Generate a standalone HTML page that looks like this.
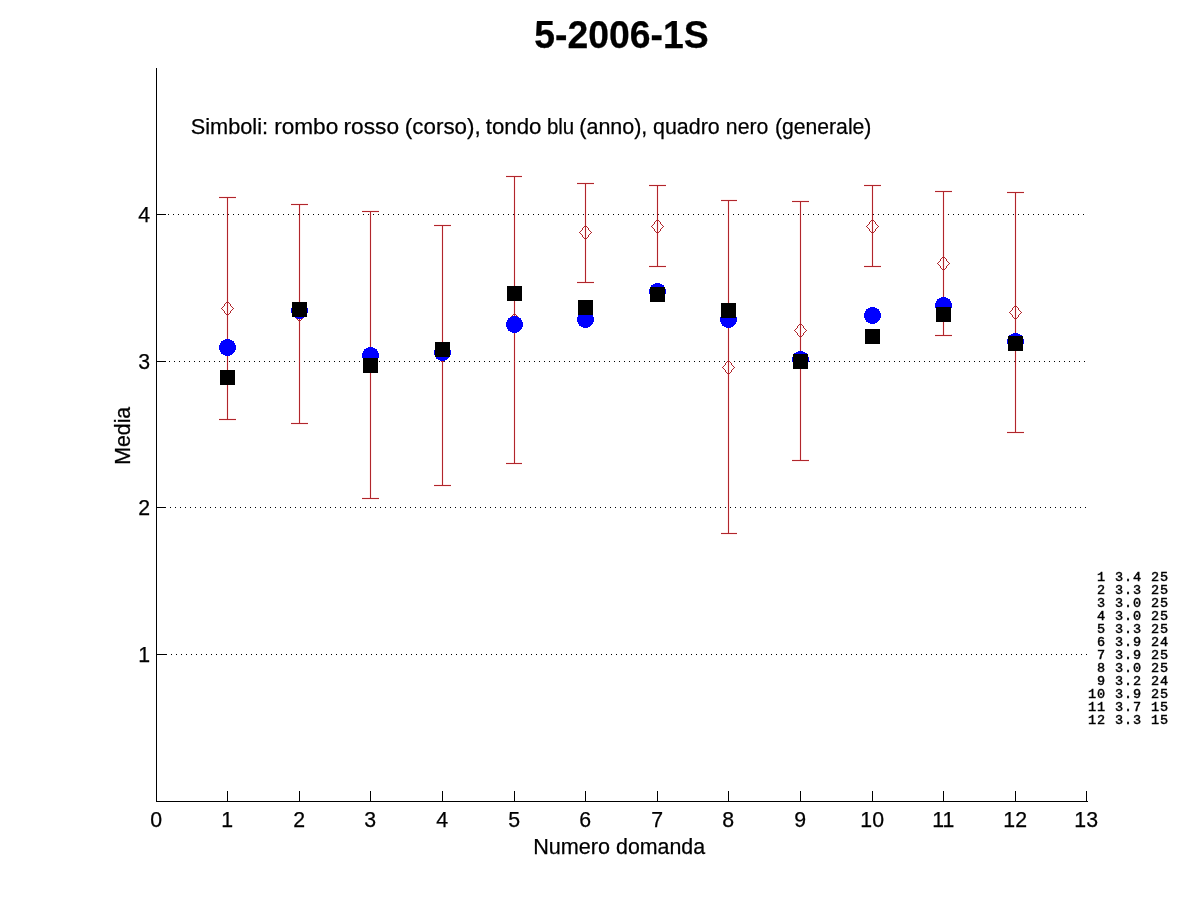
<!DOCTYPE html>
<html lang="it"><head><meta charset="utf-8"><title>5-2006-1S</title>
<style>html,body{margin:0;padding:0;background:#fff}body{width:1201px;height:900px;overflow:hidden}svg{display:block}text{font-family:"Liberation Sans",Arial,Helvetica,sans-serif;fill:#000;stroke:#000;stroke-width:0.25px}.mono{font-family:"Liberation Mono","Courier New",monospace;font-weight:normal;font-size:13.5px;letter-spacing:0.9px;white-space:pre;stroke:#000;stroke-width:0.45px}.t{font-size:21.3px}</style></head><body>
<svg width="1201" height="900" viewBox="0 0 1201 900">
<rect width="1201" height="900" fill="#fff"/>
<g shape-rendering="crispEdges" stroke="#000" stroke-width="1" fill="none">
<line x1="158" y1="214.5" x2="1087" y2="214.5" stroke-dasharray="1 4"/>
<line x1="159" y1="361.5" x2="1087" y2="361.5" stroke-dasharray="1 4"/>
<line x1="160" y1="507.5" x2="1087" y2="507.5" stroke-dasharray="1 4"/>
<line x1="161" y1="654.5" x2="1087" y2="654.5" stroke-dasharray="1 4"/>
<line x1="156.5" y1="68" x2="156.5" y2="802"/>
<line x1="156" y1="801.5" x2="1088" y2="801.5"/>
<line x1="227.5" y1="791" x2="227.5" y2="802"/>
<line x1="299.5" y1="791" x2="299.5" y2="802"/>
<line x1="370.5" y1="791" x2="370.5" y2="802"/>
<line x1="442.5" y1="791" x2="442.5" y2="802"/>
<line x1="514.5" y1="791" x2="514.5" y2="802"/>
<line x1="585.5" y1="791" x2="585.5" y2="802"/>
<line x1="657.5" y1="791" x2="657.5" y2="802"/>
<line x1="728.5" y1="791" x2="728.5" y2="802"/>
<line x1="800.5" y1="791" x2="800.5" y2="802"/>
<line x1="872.5" y1="791" x2="872.5" y2="802"/>
<line x1="943.5" y1="791" x2="943.5" y2="802"/>
<line x1="1015.5" y1="791" x2="1015.5" y2="802"/>
<line x1="1086.5" y1="791" x2="1086.5" y2="802"/>
<line x1="156" y1="214.5" x2="166" y2="214.5"/>
<line x1="156" y1="361.5" x2="166" y2="361.5"/>
<line x1="156" y1="507.5" x2="166" y2="507.5"/>
<line x1="156" y1="654.5" x2="166" y2="654.5"/>
</g>
<g shape-rendering="crispEdges" stroke="#ff0000" stroke-opacity="0.06" stroke-width="3" fill="none">
<line x1="227.5" y1="197" x2="227.5" y2="420"/>
<line x1="219" y1="197.5" x2="236" y2="197.5"/>
<line x1="219" y1="419.5" x2="236" y2="419.5"/>
<line x1="299.5" y1="204" x2="299.5" y2="424"/>
<line x1="291" y1="204.5" x2="308" y2="204.5"/>
<line x1="291" y1="423.5" x2="308" y2="423.5"/>
<line x1="370.5" y1="211" x2="370.5" y2="499"/>
<line x1="362" y1="211.5" x2="379" y2="211.5"/>
<line x1="362" y1="498.5" x2="379" y2="498.5"/>
<line x1="442.5" y1="225" x2="442.5" y2="486"/>
<line x1="434" y1="225.5" x2="451" y2="225.5"/>
<line x1="434" y1="485.5" x2="451" y2="485.5"/>
<line x1="514.5" y1="176" x2="514.5" y2="464"/>
<line x1="506" y1="176.5" x2="522" y2="176.5"/>
<line x1="506" y1="463.5" x2="522" y2="463.5"/>
<line x1="585.5" y1="183" x2="585.5" y2="283"/>
<line x1="577" y1="183.5" x2="594" y2="183.5"/>
<line x1="577" y1="282.5" x2="594" y2="282.5"/>
<line x1="657.5" y1="185" x2="657.5" y2="267"/>
<line x1="649" y1="185.5" x2="666" y2="185.5"/>
<line x1="649" y1="266.5" x2="666" y2="266.5"/>
<line x1="728.5" y1="200" x2="728.5" y2="534"/>
<line x1="721" y1="200.5" x2="737" y2="200.5"/>
<line x1="721" y1="533.5" x2="737" y2="533.5"/>
<line x1="800.5" y1="201" x2="800.5" y2="461"/>
<line x1="792" y1="201.5" x2="809" y2="201.5"/>
<line x1="792" y1="460.5" x2="809" y2="460.5"/>
<line x1="872.5" y1="185" x2="872.5" y2="267"/>
<line x1="864" y1="185.5" x2="881" y2="185.5"/>
<line x1="864" y1="266.5" x2="881" y2="266.5"/>
<line x1="943.5" y1="191" x2="943.5" y2="336"/>
<line x1="935" y1="191.5" x2="952" y2="191.5"/>
<line x1="935" y1="335.5" x2="952" y2="335.5"/>
<line x1="1015.5" y1="192" x2="1015.5" y2="433"/>
<line x1="1007" y1="192.5" x2="1024" y2="192.5"/>
<line x1="1007" y1="432.5" x2="1024" y2="432.5"/>
</g>
<g shape-rendering="crispEdges" stroke="#b0262c" stroke-width="1" fill="none">
<line x1="227.5" y1="197" x2="227.5" y2="420"/>
<line x1="219" y1="197.5" x2="236" y2="197.5"/>
<line x1="219" y1="419.5" x2="236" y2="419.5"/>
<line x1="299.5" y1="204" x2="299.5" y2="424"/>
<line x1="291" y1="204.5" x2="308" y2="204.5"/>
<line x1="291" y1="423.5" x2="308" y2="423.5"/>
<line x1="370.5" y1="211" x2="370.5" y2="499"/>
<line x1="362" y1="211.5" x2="379" y2="211.5"/>
<line x1="362" y1="498.5" x2="379" y2="498.5"/>
<line x1="442.5" y1="225" x2="442.5" y2="486"/>
<line x1="434" y1="225.5" x2="451" y2="225.5"/>
<line x1="434" y1="485.5" x2="451" y2="485.5"/>
<line x1="514.5" y1="176" x2="514.5" y2="464"/>
<line x1="506" y1="176.5" x2="522" y2="176.5"/>
<line x1="506" y1="463.5" x2="522" y2="463.5"/>
<line x1="585.5" y1="183" x2="585.5" y2="283"/>
<line x1="577" y1="183.5" x2="594" y2="183.5"/>
<line x1="577" y1="282.5" x2="594" y2="282.5"/>
<line x1="657.5" y1="185" x2="657.5" y2="267"/>
<line x1="649" y1="185.5" x2="666" y2="185.5"/>
<line x1="649" y1="266.5" x2="666" y2="266.5"/>
<line x1="728.5" y1="200" x2="728.5" y2="534"/>
<line x1="721" y1="200.5" x2="737" y2="200.5"/>
<line x1="721" y1="533.5" x2="737" y2="533.5"/>
<line x1="800.5" y1="201" x2="800.5" y2="461"/>
<line x1="792" y1="201.5" x2="809" y2="201.5"/>
<line x1="792" y1="460.5" x2="809" y2="460.5"/>
<line x1="872.5" y1="185" x2="872.5" y2="267"/>
<line x1="864" y1="185.5" x2="881" y2="185.5"/>
<line x1="864" y1="266.5" x2="881" y2="266.5"/>
<line x1="943.5" y1="191" x2="943.5" y2="336"/>
<line x1="935" y1="191.5" x2="952" y2="191.5"/>
<line x1="935" y1="335.5" x2="952" y2="335.5"/>
<line x1="1015.5" y1="192" x2="1015.5" y2="433"/>
<line x1="1007" y1="192.5" x2="1024" y2="192.5"/>
<line x1="1007" y1="432.5" x2="1024" y2="432.5"/>
</g>
<defs><path id="dm" d="M-6 0h1v1h-1zM-5 -1h1v1h-1zM-5 1h1v1h-1zM-4 -2h1v1h-1zM-4 2h1v1h-1zM-3 -4h1v1h-1zM-3 -3h1v1h-1zM-3 3h1v1h-1zM-3 4h1v1h-1zM-2 -5h1v1h-1zM-2 5h1v1h-1zM-1 -6h1v1h-1zM-1 6h1v1h-1zM0 -6h1v1h-1zM0 6h1v1h-1zM1 -6h1v1h-1zM1 6h1v1h-1zM2 -5h1v1h-1zM2 5h1v1h-1zM3 -4h1v1h-1zM3 -3h1v1h-1zM3 3h1v1h-1zM3 4h1v1h-1zM4 -2h1v1h-1zM4 2h1v1h-1zM5 -1h1v1h-1zM5 1h1v1h-1zM6 0h1v1h-1z"/></defs>
<g fill="#b0262c" shape-rendering="crispEdges">
<use href="#dm" x="227" y="308"/>
<use href="#dm" x="299" y="314"/>
<use href="#dm" x="370" y="355"/>
<use href="#dm" x="442" y="355"/>
<use href="#dm" x="514" y="320"/>
<use href="#dm" x="585" y="232"/>
<use href="#dm" x="657" y="226"/>
<use href="#dm" x="728" y="367"/>
<use href="#dm" x="800" y="330"/>
<use href="#dm" x="872" y="226"/>
<use href="#dm" x="943" y="263"/>
<use href="#dm" x="1015" y="312"/>
</g>
<g fill="#0000ff" shape-rendering="crispEdges">
<circle cx="227.5" cy="347.5" r="8.5"/>
<circle cx="299.5" cy="310.5" r="8.5"/>
<circle cx="370.5" cy="355.5" r="8.5"/>
<circle cx="442.5" cy="352.5" r="8.5"/>
<circle cx="514.5" cy="324.5" r="8.5"/>
<circle cx="585.5" cy="319.5" r="8.5"/>
<circle cx="657.5" cy="291.5" r="8.5"/>
<circle cx="728.5" cy="319.5" r="8.5"/>
<circle cx="800.5" cy="359.5" r="8.5"/>
<circle cx="872.5" cy="315.5" r="8.5"/>
<circle cx="943.5" cy="305.5" r="8.5"/>
<circle cx="1015.5" cy="341.5" r="8.5"/>
</g>
<g fill="#000" shape-rendering="crispEdges">
<rect x="220" y="370" width="15" height="15"/>
<rect x="292" y="302" width="15" height="15"/>
<rect x="363" y="358" width="15" height="15"/>
<rect x="435" y="342" width="15" height="15"/>
<rect x="507" y="286" width="15" height="15"/>
<rect x="578" y="300" width="15" height="15"/>
<rect x="650" y="287" width="15" height="15"/>
<rect x="721" y="303" width="15" height="15"/>
<rect x="793" y="354" width="15" height="15"/>
<rect x="865" y="329" width="15" height="15"/>
<rect x="936" y="307" width="15" height="15"/>
<rect x="1008" y="336" width="15" height="15"/>
</g>
<text x="534.27" y="47.7" font-size="38.2" font-weight="bold" textLength="174.37" lengthAdjust="spacingAndGlyphs">5-2006-1S</text>
<text x="190.75" y="133.7" font-size="22" textLength="77.32" lengthAdjust="spacingAndGlyphs">Simboli:</text>
<text x="274.16" y="133.7" font-size="22" textLength="64.08" lengthAdjust="spacingAndGlyphs">rombo</text>
<text x="343.55" y="133.7" font-size="22" textLength="55.54" lengthAdjust="spacingAndGlyphs">rosso</text>
<text x="404.88" y="133.7" font-size="22" textLength="75.79" lengthAdjust="spacingAndGlyphs">(corso),</text>
<text x="485.75" y="133.7" font-size="22" textLength="55.63" lengthAdjust="spacingAndGlyphs">tondo</text>
<text x="546.94" y="133.7" font-size="22" textLength="27.29" lengthAdjust="spacingAndGlyphs">blu</text>
<text x="579.34" y="133.7" font-size="22" textLength="68.00" lengthAdjust="spacingAndGlyphs">(anno),</text>
<text x="653.03" y="133.7" font-size="22" textLength="66.67" lengthAdjust="spacingAndGlyphs">quadro</text>
<text x="725.84" y="133.7" font-size="22" textLength="42.47" lengthAdjust="spacingAndGlyphs">nero</text>
<text x="774.96" y="133.7" font-size="22" textLength="96.45" lengthAdjust="spacingAndGlyphs">(generale)</text>
<text x="533.23" y="853.6" font-size="21.3" textLength="76.86" lengthAdjust="spacingAndGlyphs">Numero</text>
<text x="616.00" y="853.6" font-size="21.3" textLength="89.08" lengthAdjust="spacingAndGlyphs">domanda</text>
<text class="t" x="156.2" y="826.6" text-anchor="middle">0</text>
<text class="t" x="227.2" y="826.6" text-anchor="middle">1</text>
<text class="t" x="299.2" y="826.6" text-anchor="middle">2</text>
<text class="t" x="370.2" y="826.6" text-anchor="middle">3</text>
<text class="t" x="442.2" y="826.6" text-anchor="middle">4</text>
<text class="t" x="514.2" y="826.6" text-anchor="middle">5</text>
<text class="t" x="585.2" y="826.6" text-anchor="middle">6</text>
<text class="t" x="657.2" y="826.6" text-anchor="middle">7</text>
<text class="t" x="728.2" y="826.6" text-anchor="middle">8</text>
<text class="t" x="800.2" y="826.6" text-anchor="middle">9</text>
<text class="t" x="872.2" y="826.6" text-anchor="middle">10</text>
<text class="t" x="943.2" y="826.6" text-anchor="middle">11</text>
<text class="t" x="1015.2" y="826.6" text-anchor="middle">12</text>
<text class="t" x="1086.2" y="826.6" text-anchor="middle">13</text>
<text class="t" x="150.1" y="221.7" text-anchor="end">4</text>
<text class="t" x="150.1" y="368.7" text-anchor="end">3</text>
<text class="t" x="150.1" y="514.7" text-anchor="end">2</text>
<text class="t" x="150.1" y="661.7" text-anchor="end">1</text>
<text class="t" transform="translate(130 435.8) rotate(-90)" text-anchor="middle">Media</text>
<text class="mono" x="1088.1" y="581" xml:space="preserve"> 1 3.4 25</text>
<text class="mono" x="1088.1" y="594" xml:space="preserve"> 2 3.3 25</text>
<text class="mono" x="1088.1" y="607" xml:space="preserve"> 3 3.0 25</text>
<text class="mono" x="1088.1" y="620" xml:space="preserve"> 4 3.0 25</text>
<text class="mono" x="1088.1" y="633" xml:space="preserve"> 5 3.3 25</text>
<text class="mono" x="1088.1" y="646" xml:space="preserve"> 6 3.9 24</text>
<text class="mono" x="1088.1" y="659" xml:space="preserve"> 7 3.9 25</text>
<text class="mono" x="1088.1" y="672" xml:space="preserve"> 8 3.0 25</text>
<text class="mono" x="1088.1" y="685" xml:space="preserve"> 9 3.2 24</text>
<text class="mono" x="1088.1" y="698" xml:space="preserve">10 3.9 25</text>
<text class="mono" x="1088.1" y="711" xml:space="preserve">11 3.7 15</text>
<text class="mono" x="1088.1" y="724" xml:space="preserve">12 3.3 15</text>
</svg></body></html>
